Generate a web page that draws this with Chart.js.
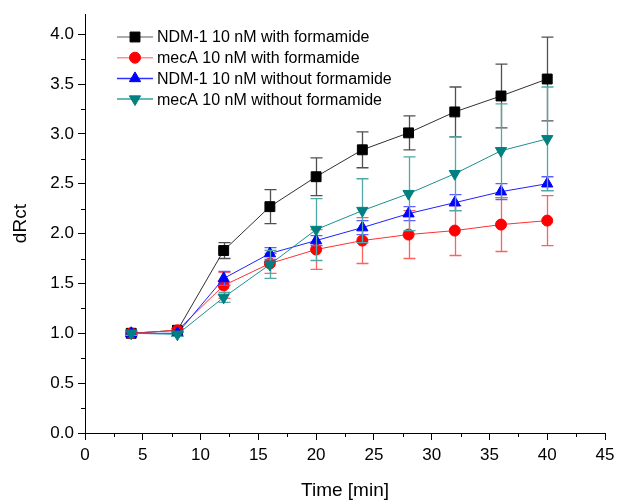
<!DOCTYPE html>
<html><head><meta charset="utf-8">
<script src="https://cdn.jsdelivr.net/npm/chart.js@4"></script>
<style>html,body{margin:0;padding:0;background:#fff}#wrap{width:620px;height:502px;position:relative}</style>
</head><body><div id="wrap"><canvas id="c" width="620" height="502"></canvas></div>
<script>
const times = [4, 8, 12, 16, 20, 24, 28, 32, 36, 40];
const seriesLabels = ['NDM-1 10 nM with formamide', 'mecA 10 nM with formamide', 'NDM-1 10 nM without formamide', 'mecA 10 nM without formamide'];
const ndmWith       = [1.00, 1.03, 1.83, 2.27, 2.57, 2.84, 3.01, 3.22, 3.38, 3.55];
const ndmWithErr    = [0.01, 0.02, 0.08, 0.17, 0.19, 0.18, 0.17, 0.25, 0.32, 0.42];
const mecWith       = [1.00, 1.03, 1.48, 1.70, 1.84, 1.93, 1.99, 2.03, 2.09, 2.13];
const mecWithErr    = [0.01, 0.02, 0.13, 0.10, 0.20, 0.23, 0.24, 0.25, 0.27, 0.25];
const ndmWithout    = [1.00, 1.00, 1.55, 1.80, 1.93, 2.06, 2.20, 2.31, 2.42, 2.50];
const ndmWithoutErr = [0.02, 0.02, 0.07, 0.06, 0.05, 0.07, 0.07, 0.08, 0.08, 0.07];
const mecWithout    = [1.00, 0.99, 1.36, 1.69, 2.04, 2.23, 2.40, 2.60, 2.83, 2.95];
const mecWithoutErr = [0.02, 0.02, 0.05, 0.14, 0.31, 0.32, 0.37, 0.37, 0.47, 0.52];
const xTicksMajor = [0, 5, 10, 15, 20, 25, 30, 35, 40, 45];
const yTicksMajor = [0.0, 0.5, 1.0, 1.5, 2.0, 2.5, 3.0, 3.5, 4.0];

const FONT = '"Liberation Sans", Arial, sans-serif';
const pts = (ys) => times.map((t, i) => ({x: t, y: ys[i]}));

const errorBars = {
  id: 'errorBars',
  beforeDatasetDraw(chart, args) {
    const ds = chart.data.datasets[args.index];
    if (!ds.errors) return;
    const xs = chart.scales.x, ys = chart.scales.y, ctx = chart.ctx;
    ctx.save();
    ctx.strokeStyle = ds.errColor;
    ctx.lineWidth = 1.3;
    ds.data.forEach((p, i) => {
      const e = ds.errors[i];
      const x = Math.round(xs.getPixelForValue(p.x)) + 0.5;
      const y1 = ys.getPixelForValue(p.y + e), y2 = ys.getPixelForValue(p.y - e);
      ctx.beginPath();
      ctx.moveTo(x, y1); ctx.lineTo(x, y2);
      ctx.moveTo(x - 6, y1); ctx.lineTo(x + 6, y1);
      ctx.moveTo(x - 6, y2); ctx.lineTo(x + 6, y2);
      ctx.stroke();
    });
    ctx.restore();
  }
};

const minorTicks = {
  id: 'minorTicks',
  afterDraw(chart) {
    const xs = chart.scales.x, ys = chart.scales.y, ctx = chart.ctx;
    ctx.save();
    ctx.strokeStyle = '#000';
    ctx.lineWidth = 1;
    ctx.beginPath();
    for (let i = 0; i < xTicksMajor.length - 1; i++) {
      const v = (xTicksMajor[i] + xTicksMajor[i + 1]) / 2;
      const x = Math.round(xs.getPixelForValue(v)) + 0.5;
      ctx.moveTo(x, xs.top); ctx.lineTo(x, xs.top + 4);
    }
    for (let i = 0; i < yTicksMajor.length - 1; i++) {
      const v = (yTicksMajor[i] + yTicksMajor[i + 1]) / 2;
      const y = Math.round(ys.getPixelForValue(v)) + 0.5;
      ctx.moveTo(ys.right, y); ctx.lineTo(ys.right - 4, y);
    }
    ctx.stroke();
    ctx.restore();
  }
};

const legendBox = {
  id: 'legendBox',
  afterDraw(chart) {
    const ctx = chart.ctx;
    ctx.save();
    ctx.font = '16px ' + FONT;
    ctx.textBaseline = 'middle';
    ctx.textAlign = 'left';
    chart.data.datasets.forEach((ds, i) => {
      const y = 37 + i * 20.7;
      ctx.strokeStyle = ds.legendLine;
      ctx.lineWidth = 1.5;
      ctx.beginPath(); ctx.moveTo(117, y); ctx.lineTo(153, y); ctx.stroke();
      ctx.fillStyle = ds.pointBackgroundColor;
      ctx.strokeStyle = ds.pointBorderColor;
      ctx.lineWidth = 1;
      Chart.helpers.drawPoint(ctx, {pointStyle: ds.pointStyle, radius: ds.pointRadius, rotation: ds.pointRotation || 0, borderWidth: 1}, 135, y);
      ctx.fillStyle = '#000';
      ctx.fillText(ds.label, 157, y + 1);
    });
    ctx.restore();
  }
};

new Chart(document.getElementById('c'), {
  type: 'line',
  data: {
    datasets: [
      {label: seriesLabels[0], data: pts(ndmWith), errors: ndmWithErr, errColor: '#505050', legendLine: '#909090',
       borderColor: '#303030', borderWidth: 1, pointStyle: 'rect', pointRadius: 7, pointBackgroundColor: '#000', pointBorderColor: '#000', order: 4},
      {label: seriesLabels[1], data: pts(mecWith), errors: mecWithErr, errColor: '#ff6060', legendLine: '#ff9090',
       borderColor: '#ff3030', borderWidth: 1, pointStyle: 'circle', pointRadius: 5.5, pointBackgroundColor: '#ff0000', pointBorderColor: '#ff0000', order: 3},
      {label: seriesLabels[2], data: pts(ndmWithout), errors: ndmWithoutErr, errColor: '#6060ff', legendLine: '#3030ff',
       borderColor: '#2020ff', borderWidth: 1, pointStyle: 'triangle', pointRadius: 6.5, pointBackgroundColor: '#0000ff', pointBorderColor: '#0000ff', order: 2},
      {label: seriesLabels[3], data: pts(mecWithout), errors: mecWithoutErr, errColor: '#50a8a8', legendLine: '#30a0a0',
       borderColor: '#1a9090', borderWidth: 1, pointStyle: 'triangle', pointRotation: 180, pointRadius: 6.5, pointBackgroundColor: '#008080', pointBorderColor: '#008080', order: 1}
    ]
  },
  options: {
    responsive: false,
    animation: false,
    events: [],
    layout: {padding: {top: 13, right: 15, left: 0, bottom: 0}},
    plugins: {legend: {display: false}, tooltip: {enabled: false}},
    elements: {line: {tension: 0}},
    scales: {
      x: {
        type: 'linear', min: 0, max: 45,
        afterBuildTicks: (s) => { s.ticks = xTicksMajor.map(v => ({value: v})); },
        afterFit: (s) => { s.height = 69; },
        grid: {display: true, drawOnChartArea: false, drawTicks: true, tickLength: 7, color: '#000', tickColor: '#000'},
        border: {display: true, color: '#000', width: 1},
        ticks: {color: '#000', font: {family: FONT, size: 17}, padding: 5, maxRotation: 0, autoSkip: false,
                callback: (v) => String(v)},
        title: {display: true, text: 'Time [min]', color: '#000', font: {family: FONT, size: 19}, padding: {top: 0, bottom: 0}}
      },
      y: {
        type: 'linear', min: 0, max: 4.2,
        afterBuildTicks: (s) => { s.ticks = yTicksMajor.map(v => ({value: v})); },
        afterFit: (s) => { s.width = 85; },
        grid: {display: true, drawOnChartArea: false, drawTicks: true, tickLength: 7, color: '#000', tickColor: '#000'},
        border: {display: true, color: '#000', width: 1},
        ticks: {color: '#000', font: {family: FONT, size: 17}, padding: 4, autoSkip: false,
                callback: (v) => Number(v).toFixed(1)},
        title: {display: true, text: 'dRct', color: '#000', font: {family: FONT, size: 19}, padding: {top: 9, bottom: 0}}
      }
    }
  },
  plugins: [errorBars, minorTicks, legendBox]
});
</script>
</body></html>
